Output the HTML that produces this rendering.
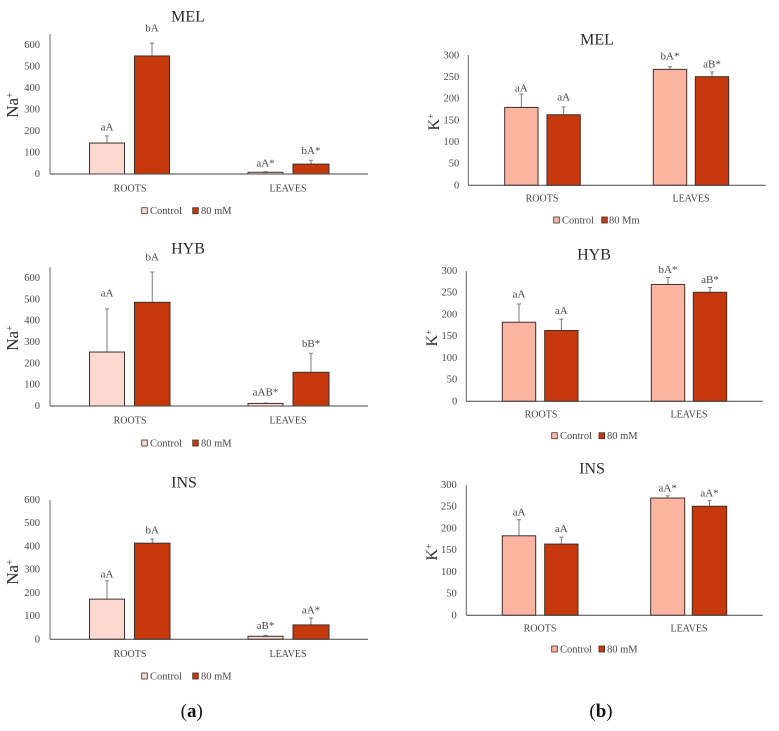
<!DOCTYPE html>
<html lang="en">
<head>
<meta charset="utf-8">
<title>Na+ and K+ bar charts</title>
<style>
html,body{margin:0;padding:0;background:#fff;width:779px;height:731px;overflow:hidden}
svg{display:block;filter:blur(0.3px)}
text{font-family:"Liberation Serif",serif}
</style>
</head>
<body>
<svg id="figure" width="779" height="731" viewBox="0 0 779 731" xmlns="http://www.w3.org/2000/svg"></svg>
<script>
const categories = ['ROOTS', 'LEAVES'];
const seriesNames = ['Control', '80 mM'];
const seriesNamesMelK = ['Control', '80 Mm'];
const naTickLabels = [0, 100, 200, 300, 400, 500, 600];
const kTickLabels = [0, 50, 100, 150, 200, 250, 300];

const melNaControl = [144, 8];
const melNaSalt = [549, 46];
const melNaControlUpper = [177, 11];
const melNaSaltUpper = [609, 64];
const melNaLetters = [['aA', 'aA*'], ['bA', 'bA*']];

const hybNaControl = [253, 12];
const hybNaSalt = [486, 158];
const hybNaControlUpper = [455, 14];
const hybNaSaltUpper = [628, 247];
const hybNaLetters = [['aA', 'aAB*'], ['bA', 'bB*']];

const insNaControl = [173, 13];
const insNaSalt = [414, 62];
const insNaControlUpper = [252, 17];
const insNaSaltUpper = [432, 92];
const insNaLetters = [['aA', 'aB*'], ['bA', 'aA*']];

const melKControl = [180, 268];
const melKSalt = [163, 251];
const melKControlUpper = [211, 274];
const melKSaltUpper = [181, 262];
const melKLetters = [['aA', 'bA*'], ['aA', 'aB*']];

const hybKControl = [182, 269];
const hybKSalt = [163, 251];
const hybKControlUpper = [224, 285];
const hybKSaltUpper = [189, 262];
const hybKLetters = [['aA', 'bA*'], ['aA', 'aB*']];

const insKControl = [183, 270];
const insKSalt = [164, 251];
const insKControlUpper = [220, 275];
const insKSaltUpper = [180, 264];
const insKLetters = [['aA', 'aA*'], ['aA', 'aA*']];

const NS = 'http://www.w3.org/2000/svg';
const root = document.getElementById('figure');
const DARK = '#3b302c';
const TXT = '#4a4542';
const SALT = '#c5390d';

const layouts = [
  {key:'mel-na', title:'MEL', titleX:188, titleY:16, ion:'Na', ionX:13, ionY:105, ionSize:17,
   ctrl:melNaControl, salt:melNaSalt, ctrlUp:melNaControlUpper, saltUp:melNaSaltUpper, letters:melNaLetters,
   ticks:naTickLabels, names:seriesNames, fill:'#fdd8d0',
   axisX:50, right:368, base:174, maxY:45, axisTop:34, tickX:40,
   bars:[[89.5,124.5,134.5,169.5],[248,283,293,329]],
   gaps:[[9,9],[15,10]], catX:[130,288], catY:188,
   legY:210.7, leg:[141.7,150,192.7,201]},
  {key:'hyb-na', title:'HYB', titleX:188, titleY:248, ion:'Na', ionX:13, ionY:338, ionSize:17,
   ctrl:hybNaControl, salt:hybNaSalt, ctrlUp:hybNaControlUpper, saltUp:hybNaSaltUpper, letters:hybNaLetters,
   ticks:naTickLabels, names:seriesNames, fill:'#fdd8d0',
   axisX:50, right:368, base:406, maxY:278, axisTop:267, tickX:40,
   bars:[[89.5,124.5,134.5,170],[248,283,293,329]],
   gaps:[[16,11],[15,10]], catX:[130,288], catY:420,
   legY:443, leg:[141.7,150,192.7,201]},
  {key:'ins-na', title:'INS', titleX:184, titleY:482, ion:'Na', ionX:13, ionY:572, ionSize:17,
   ctrl:insNaControl, salt:insNaSalt, ctrlUp:insNaControlUpper, saltUp:insNaSaltUpper, letters:insNaLetters,
   ticks:naTickLabels, names:seriesNames, fill:'#fdd8d0',
   axisX:50, right:368, base:639.3, maxY:500, axisTop:500, tickX:40,
   bars:[[89.5,124.5,134.5,170],[248,283,293,329]],
   gaps:[[7,10],[9,8]], catX:[130,288], catY:653.7,
   legY:676, leg:[141.7,150,192.7,201]},
  {key:'mel-k', title:'MEL', titleX:597, titleY:39, ion:'K', ionX:434, ionY:122, ionSize:16,
   ctrl:melKControl, salt:melKSalt, ctrlUp:melKControlUpper, saltUp:melKSaltUpper, letters:melKLetters,
   ticks:kTickLabels, names:seriesNamesMelK, fill:'#fdb5a2',
   axisX:468.3, right:765.7, base:185.3, maxY:55.5, axisTop:55, tickX:459.3,
   bars:[[504.7,538,547,580.3],[653.3,686.7,695.3,728.7]],
   gaps:[[6,11],[10,8]], catX:[542,691], catY:198,
   legY:220, leg:[553.7,562,601.7,609]},
  {key:'hyb-k', title:'HYB', titleX:594, titleY:254, ion:'K', ionX:432, ionY:338, ionSize:16,
   ctrl:hybKControl, salt:hybKSalt, ctrlUp:hybKControlUpper, saltUp:hybKSaltUpper, letters:hybKLetters,
   ticks:kTickLabels, names:seriesNames, fill:'#fdb5a2',
   axisX:466.3, right:762.7, base:401.3, maxY:271, axisTop:271, tickX:457.3,
   bars:[[502.3,535.7,544.7,578],[651.3,684.7,693.3,726.7]],
   gaps:[[10,8],[9,8]], catX:[541,689], catY:414,
   legY:435.7, leg:[551.7,560,599,607]},
  {key:'ins-k', title:'INS', titleX:592, titleY:468, ion:'K', ionX:432, ionY:552, ionSize:16,
   ctrl:insKControl, salt:insKSalt, ctrlUp:insKControlUpper, saltUp:insKSaltUpper, letters:insKLetters,
   ticks:kTickLabels, names:seriesNames, fill:'#fdb5a2',
   axisX:466.3, right:762.7, base:615.3, maxY:485, axisTop:485, tickX:456.7,
   bars:[[502.3,535.7,544.7,578],[650.7,684.7,692.3,726.7]],
   gaps:[[8,8],[9,8]], catX:[540,689], catY:628,
   legY:649, leg:[551.7,560,599,607]}
];

function make(parent, tag, attrs, content) {
  const el = document.createElementNS(NS, tag);
  for (const k in attrs) el.setAttribute(k, attrs[k]);
  if (content !== undefined) el.textContent = content;
  parent.appendChild(el);
  return el;
}

function label(parent, x, y, str, size, anchor, color) {
  return make(parent, 'text', {x:x, y:y + size * 0.33, 'font-size':size, 'text-anchor':anchor, fill:color}, str);
}

function drawPanel(p) {
  const g = make(root, 'g', {});
  
  

  const axisMax = p.ticks[p.ticks.length - 1];
  const yScale = function (v) { return p.base - (v / axisMax) * (p.base - p.maxY); };

  const title = label(g, p.titleX, p.titleY, p.title, 16, 'middle', '#2a2a2a');
  
  

  const ion = make(g, 'text', {transform:'translate(' + (p.ionX + 5) + ',' + p.ionY + ') rotate(-90)', 'font-size':p.ionSize, 'text-anchor':'middle', fill:'#2a2a2a'}, p.ion);
  
  
  const sup = make(ion, 'tspan', {dy:-5, 'font-size':p.ionSize * 0.6}, '+');
  
  

  p.ticks.forEach(function (t) {
    const tick = label(g, p.tickX, yScale(t) - 0.5, String(t), 10.5, 'end', TXT);
    
    
  });

  const seriesSets = [
    {vals:p.ctrl, ups:p.ctrlUp, fill:p.fill, name:'control'},
    {vals:p.salt, ups:p.saltUp, fill:SALT, name:'salt'}
  ];

  seriesSets.forEach(function (s, si) {
    s.vals.forEach(function (v, ci) {
      const x0 = p.bars[ci][si * 2];
      const x1 = p.bars[ci][si * 2 + 1];
      const cx = (x0 + x1) / 2;
      const top = yScale(v);
      const upY = yScale(s.ups[ci]);

      const stem = make(g, 'line', {x1:cx, x2:cx, y1:top, y2:upY, stroke:'#7d7a78', 'stroke-width':1});
      
      
      const cap = make(g, 'line', {x1:cx - 2, x2:cx + 2, y1:upY, y2:upY, stroke:'#7d7a78', 'stroke-width':1});
      
      

      const bar = make(g, 'rect', {x:x0, y:top, width:x1 - x0, height:p.base - top, fill:s.fill, stroke:DARK, 'stroke-width':1});
      
      

      const note = label(g, cx, upY - p.gaps[si][ci], p.letters[si][ci], 11, 'middle', TXT);
      
      
    });
  });

  const yAxis = make(g, 'line', {x1:p.axisX, x2:p.axisX, y1:p.axisTop, y2:p.base, stroke:'#6a6664', 'stroke-width':1});
  
  
  const xAxis = make(g, 'line', {x1:p.axisX, x2:p.right, y1:p.base, y2:p.base, stroke:'#4a4542', 'stroke-width':1});
  
  

  categories.forEach(function (c, ci) {
    const cat = label(g, p.catX[ci], p.catY, c, 10, 'middle', TXT);
    
    
  });

  const legend = make(g, 'g', {});
  
  
  seriesSets.forEach(function (s, si) {
    const sw = make(legend, 'rect', {x:p.leg[si * 2], y:p.legY - 3, width:5.6, height:6, fill:s.fill, stroke:DARK, 'stroke-width':0.8});
    
    
    const t = label(legend, p.leg[si * 2 + 1], p.legY, p.names[si], 10.5, 'start', TXT);
    
    
  });
}

layouts.forEach(drawPanel);

function drawCaption(x, y, letter) {
  const t = make(root, 'text', {x:x, y:y + 6, 'font-size':19, 'text-anchor':'middle', fill:'#111'}, '(');
  
  
  const b = make(t, 'tspan', {'font-weight':'bold'}, letter);
  
  
  const c = make(t, 'tspan', {}, ')');
  
  
}
drawCaption(191.7, 711, 'a');
drawCaption(601, 711, 'b');
</script>
</body>
</html>
